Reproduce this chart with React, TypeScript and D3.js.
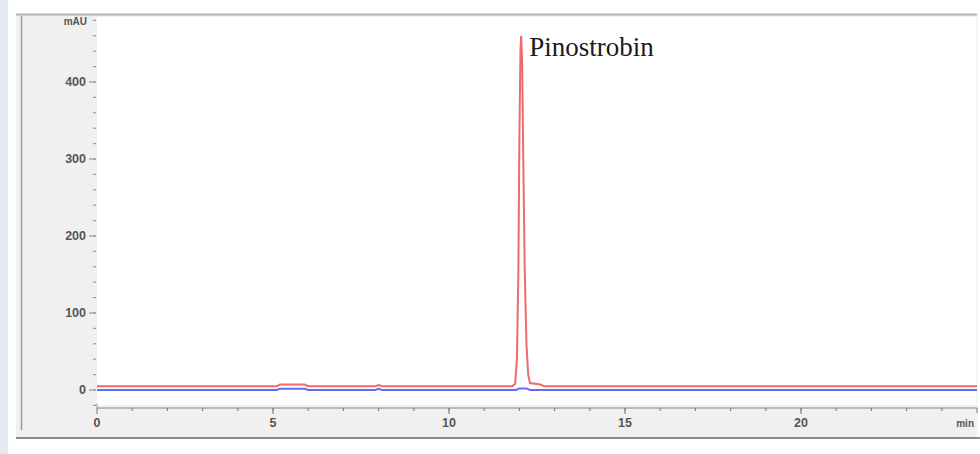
import React from 'react';
import * as d3 from 'd3';

// retention time (min) vs absorbance (mAU)
const redTimes = [0, 5.1, 5.2, 5.9, 6.0, 7.9, 8.0, 8.1, 11.8, 11.88, 11.93, 11.97, 12.0, 12.03, 12.05, 12.08, 12.11, 12.15, 12.2, 12.25, 12.3, 12.6, 12.7, 25];
const redValues = [5, 5, 7, 7, 5, 5, 6.5, 5, 5, 8, 40, 150, 330, 440, 460, 420, 300, 160, 60, 20, 9, 7, 5, 5];

const blueTimes = [0, 5.1, 5.2, 5.9, 6.0, 7.9, 8.0, 8.1, 11.9, 12.0, 12.2, 12.3, 25];
const blueValues = [0, 0, 1.5, 1.5, 0, 0, 1.5, 0, 0, 2, 2, 0, 0];

const xTicks = [0, 5, 10, 15, 20];
const yTicks = [0, 100, 200, 300, 400];
const peakLabel = 'Pinostrobin';

const W = 980;
const H = 454;
const plot = { left: 97, right: 977, top: 17, bottom: 408 };

export default function App() {
  const x = d3.scaleLinear().domain([0, 25]).range([plot.left, plot.right]);
  const y = d3.scaleLinear().domain([-23.4, 484.4]).range([plot.bottom, plot.top]);

  const line = d3
    .line<[number, number]>()
    .x((d) => x(d[0]))
    .y((d) => y(d[1]));

  const red = redTimes.map((t, i) => [t, redValues[i]] as [number, number]);
  const blue = blueTimes.map((t, i) => [t, blueValues[i]] as [number, number]);

  const xMinor = d3.range(1, 25);
  const yMinor = d3.range(-20, 481, 20);
  const peakIdx = redValues.indexOf(d3.max(redValues)!);

  const tickFont = {
    fontFamily: 'Liberation Sans, Arial, sans-serif',
    fontSize: 12.5,
    fontWeight: 700,
    fill: '#555',
  } as const;

  return (
    <div style={{ position: 'fixed', left: 0, top: 0 }}>
      <svg width={W} height={H} style={{ display: 'block' }}>
        <rect x={0} y={0} width={W} height={H} fill="#fff" />
        <rect x={0} y={0} width={8} height={H} fill="#e5e9f5" />
        {/* panel */}
        <rect x={16} y={14} width={962} height={423} fill="#f0f0f0" />
        <line x1={16} x2={977} y1={14.5} y2={14.5} stroke="#b4b4b4" strokeWidth={2} />
        <line x1={16} x2={980} y1={438} y2={438} stroke="#8c8c8c" strokeWidth={2} />
        <line x1={21.5} x2={21.5} y1={16} y2={430} stroke="#9a9a9a" strokeWidth={1.5} />
        <line x1={977} x2={977} y1={15} y2={437} stroke="#fafafa" strokeWidth={1} />
        {/* plot area */}
        <rect x={plot.left} y={plot.top} width={plot.right - plot.left - 1} height={plot.bottom - plot.top - 3} fill="#fff" />

        {/* y axis */}
        <line x1={plot.left} x2={plot.left} y1={y(-20) - 2} y2={plot.bottom} stroke="#999" />
        {yMinor.map((v) => (
          <line key={'ym' + v} x1={93} x2={96} y1={y(v)} y2={y(v)} stroke="#999" strokeWidth={1.2} />
        ))}
        {yTicks.map((v) => (
          <g key={'y' + v}>
            <line x1={89} x2={96} y1={y(v)} y2={y(v)} stroke="#999" strokeWidth={1.2} />
            <text x={86} y={y(v)} dy="0.35em" textAnchor="end" {...tickFont}>
              {v}
            </text>
          </g>
        ))}
        <text x={87} y={y(478)} dy="0.35em" textAnchor="end" {...tickFont} fontSize={10}>
          mAU
        </text>

        {/* x axis */}
        <line x1={plot.left} x2={plot.right} y1={plot.bottom} y2={plot.bottom} stroke="#888" strokeWidth={1.2} />
        {xMinor.map((v) => (
          <line key={'xm' + v} x1={x(v)} x2={x(v)} y1={plot.bottom} y2={plot.bottom + 3} stroke="#888" strokeWidth={1.2} />
        ))}
        {xTicks.map((v) => (
          <g key={'x' + v}>
            <line x1={x(v)} x2={x(v)} y1={plot.bottom} y2={plot.bottom + 6} stroke="#888" strokeWidth={1.2} />
            <text x={x(v)} y={423} dy="0.35em" textAnchor="middle" {...tickFont}>
              {v}
            </text>
          </g>
        ))}
        <line x1={plot.right} x2={plot.right} y1={plot.bottom} y2={plot.bottom + 5} stroke="#888" strokeWidth={1.2} />
        <text x={974} y={423} dy="0.35em" textAnchor="end" {...tickFont} fontSize={10}>
          min
        </text>

        {/* traces */}
        <path d={line(blue)!} fill="none" stroke="#6a6af0" strokeWidth={2} />
        <path d={line(red)!} fill="none" stroke="#f06a6a" strokeWidth={2} />

        <text
          x={x(redTimes[peakIdx]) + 8}
          y={y(redValues[peakIdx]) + 20}
          fontFamily="Liberation Serif, Times New Roman, serif"
          fontSize={27}
          fill="#1a1a1a"
        >
          {peakLabel}
        </text>
      </svg>
    </div>
  );
}
